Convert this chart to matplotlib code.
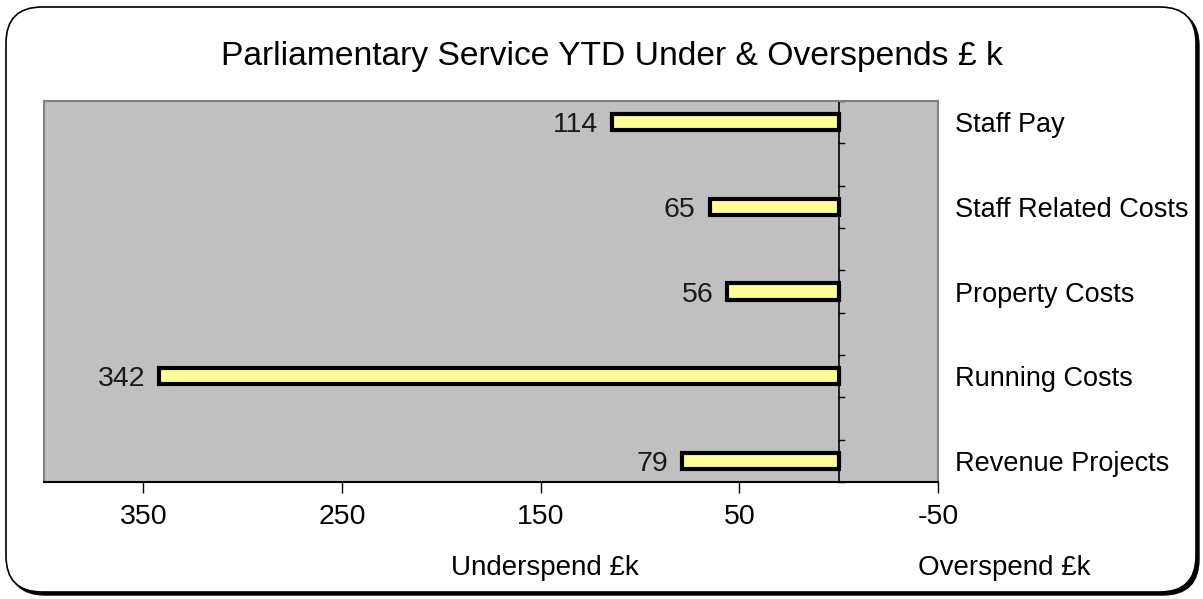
import matplotlib
matplotlib.use("Agg")
import matplotlib.pyplot as plt
from matplotlib.patches import FancyBboxPatch

plt.rcParams['font.family'] = ['Liberation Sans', 'DejaVu Sans']

categories = ["Staff Pay", "Staff Related Costs", "Property Costs", "Running Costs", "Revenue Projects"]
values = [114, 65, 56, 342, 79]
xtick_values = [350, 250, 150, 50, -50]
xtick_labels = ["350", "250", "150", "50", "-50"]
title = "Parliamentary Service YTD Under & Overspends £ k"

W, H = 1203, 599
fig = plt.figure(figsize=(W / 100, H / 100), dpi=100)
fig.patch.set_facecolor("white")

# rounded frame with shadow
shadow = FancyBboxPatch((9 / W, 4 / H), 1190 / W, 585 / H,
                        boxstyle="round,pad=0,rounding_size=0.03",
                        transform=fig.transFigure, facecolor="black",
                        edgecolor="black", lw=1, zorder=0, mutation_aspect=W / H)
frame = FancyBboxPatch((6 / W, 7 / H), 1190 / W, 585 / H,
                       boxstyle="round,pad=0,rounding_size=0.03",
                       transform=fig.transFigure, facecolor="white",
                       edgecolor="black", lw=1.2, zorder=0.5, mutation_aspect=W / H)
fig.patches.extend([shadow, frame])

left, right, top, bottom = 44, 938, 101, 482
ax = fig.add_axes([left / W, 1 - bottom / H, (right - left) / W, (bottom - top) / H])
ax.set_facecolor("#C0C0C0")
ax.set_zorder(2)

y = list(range(len(categories)))
ax.barh(y, values, height=0.19, color="#FFFF99", edgecolor="black", linewidth=3, zorder=3)

for yi, v in zip(y, values):
    ax.text(v + 7, yi, str(v), ha="right", va="center_baseline", fontsize=20.5,
            color="#1a1a1a", zorder=4)

ax.set_xlim(400, -50)
ax.set_ylim(len(categories) - 0.75, -0.25)

ax.set_xticks(xtick_values)
ax.set_xticklabels(xtick_labels, fontsize=20.5)
ax.tick_params(axis="x", direction="out", length=8, width=1, pad=8, colors="black")

ax.set_yticks(y)
ax.set_yticklabels(categories, fontsize=19.5)
ax.yaxis.tick_right()
ax.tick_params(axis="y", length=0, pad=12)

for s in ["left", "top", "right"]:
    ax.spines[s].set_color("#808080")
    ax.spines[s].set_linewidth(1.5)
ax.spines["bottom"].set_color("black")
ax.spines["bottom"].set_linewidth(1.5)

# vertical zero axis with tick marks
ax.axvline(0, color="black", lw=1.2, zorder=2.5)
tick_pos = [i * 0.5 - 0.25 for i in range(2 * len(categories))]
for tp in tick_pos:
    ax.plot([0, -2.5], [tp, tp], color="black", lw=1, zorder=2.5, clip_on=False)

fig.text(612 / W, 1 - 57 / H, title, ha="center", va="center", fontsize=24.2)
fig.text(545 / W, 1 - 568 / H, "Underspend £k", ha="center", va="center", fontsize=20)
fig.text(1004 / W, 1 - 568 / H, "Overspend £k", ha="center", va="center", fontsize=20)

fig.savefig("out.png", dpi=100, facecolor="white")
